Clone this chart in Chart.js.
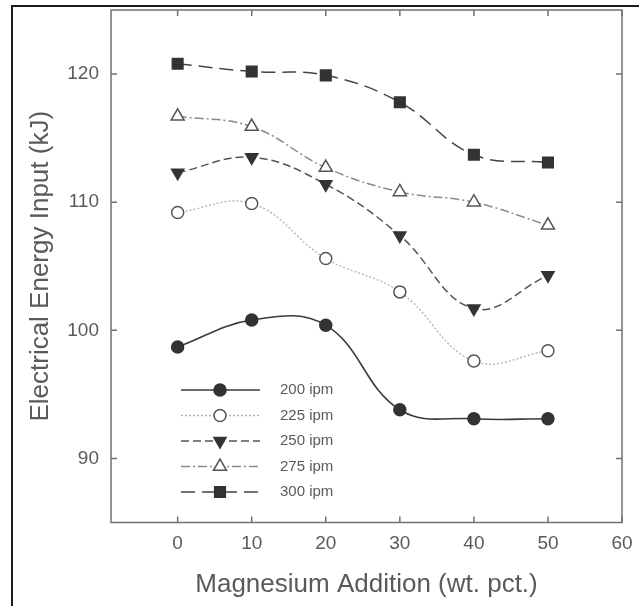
<!DOCTYPE html>
<html>
<head>
<meta charset="utf-8">
<script src="https://cdn.jsdelivr.net/npm/chart.js@4.4.1/dist/chart.umd.min.js"></script>
<style>
    html, body { margin: 0; padding: 0; background: #fff; }
    #wrap { position: relative; width: 639px; height: 606px; }
    #frame { position: absolute; left: 11px; top: 5px; right: 0; bottom: 0;
             border-top: 2px solid #1c1c1c; border-left: 2px solid #1c1c1c; pointer-events: none; }
</style>
</head>
<body>
<div id="wrap">
    <canvas id="chart" width="639" height="606"></canvas>
    <div id="frame"></div>
</div>
<script>
// magnesium addition (wt. pct.)
const magnesium = [0, 10, 20, 30, 40, 50];

// electrical energy input (kJ) per welding speed
const ipm200 = [98.7, 100.8, 100.4, 93.8, 93.1, 93.1];
const ipm225 = [109.2, 109.9, 105.6, 103.0, 97.6, 98.4];
const ipm250 = [112.3, 113.5, 111.4, 107.4, 101.7, 104.3];
const ipm275 = [116.7, 115.9, 112.7, 110.8, 110.0, 108.2];
const ipm300 = [120.8, 120.2, 119.9, 117.8, 113.7, 113.1];

const seriesLabels = ['200 ipm', '225 ipm', '250 ipm', '275 ipm', '300 ipm'];
const xTickValues = [0, 10, 20, 30, 40, 50, 60];
const yTickValues = [90, 100, 110, 120];

const textColor = '#5a5a5a';
const axisColor = '#707070';
const fontFamily = '"Liberation Sans", Arial, Helvetica, sans-serif';

function pts(values) {
    return magnesium.map((m, i) => ({ x: m, y: values[i] }));
}

const styles = [
    { color: '#3a3a3a', dash: [], width: 1.6, point: 'circle', radius: 6, fill: '#333', rotation: 0 },
    { color: '#b0b0b0', dash: [2, 2], width: 1.3, point: 'circle', radius: 6, fill: '#fff', rotation: 0 },
    { color: '#555', dash: [8, 4], width: 1.5, point: 'triangle', radius: 7, fill: '#333', rotation: 180 },
    { color: '#8a8a8a', dash: [9, 3, 2, 3], width: 1.5, point: 'triangle', radius: 7.5, fill: '#fff', rotation: 0 },
    { color: '#444', dash: [14, 7], width: 1.5, point: 'rect', radius: 7.5, fill: '#333', rotation: 0 }
];

const allValues = [ipm200, ipm225, ipm250, ipm275, ipm300];

const datasets = allValues.map((vals, i) => ({
    label: seriesLabels[i],
    data: pts(vals),
    borderColor: styles[i].color,
    borderDash: styles[i].dash,
    borderWidth: styles[i].width,
    tension: 0.4,
    fill: false,
    pointStyle: styles[i].point,
    pointRadius: styles[i].radius,
    pointRotation: styles[i].rotation,
    pointBackgroundColor: styles[i].fill,
    pointBorderColor: styles[i].fill === '#fff' ? '#555' : '#333',
    pointBorderWidth: 1.5
}));

function drawMarker(ctx, s, x, y) {
    ctx.save();
    ctx.setLineDash([]);
    ctx.fillStyle = s.fill;
    ctx.strokeStyle = s.fill === '#fff' ? '#555' : '#333';
    ctx.lineWidth = 1.5;
    ctx.beginPath();
    const r = s.radius;
    if (s.point === 'circle') {
        ctx.arc(x, y, r, 0, Math.PI * 2);
    } else if (s.point === 'rect') {
        const h = r * Math.SQRT1_2;
        ctx.rect(x - h, y - h, 2 * h, 2 * h);
    } else {
        let a = s.rotation * Math.PI / 180;
        for (let k = 0; k < 3; k++) {
            const px = x + Math.sin(a) * r, py = y - Math.cos(a) * r;
            if (k === 0) ctx.moveTo(px, py); else ctx.lineTo(px, py);
            a += 2 * Math.PI / 3;
        }
        ctx.closePath();
    }
    ctx.fill();
    ctx.stroke();
    ctx.restore();
}

// plot frame with inward ticks on all four sides, legend inside the plot
const framePlugin = {
    id: 'framePlugin',
    beforeDatasetsDraw(chart) {
        const { ctx, chartArea: a, scales } = chart;
        ctx.save();
        ctx.strokeStyle = axisColor;
        ctx.lineWidth = 1.5;
        ctx.strokeRect(a.left, a.top, a.right - a.left, a.bottom - a.top);
        ctx.beginPath();
        xTickValues.forEach(v => {
            const x = scales.x.getPixelForValue(v);
            ctx.moveTo(x, a.bottom); ctx.lineTo(x, a.bottom - 6);
            ctx.moveTo(x, a.top); ctx.lineTo(x, a.top + 6);
        });
        yTickValues.forEach(v => {
            const y = scales.y.getPixelForValue(v);
            ctx.moveTo(a.left, y); ctx.lineTo(a.left + 6, y);
            ctx.moveTo(a.right, y); ctx.lineTo(a.right - 6, y);
        });
        ctx.stroke();
        ctx.restore();
    },
    afterDatasetsDraw(chart) {
        const { ctx, chartArea: a } = chart;
        const x0 = a.left + 70, x1 = a.left + 149, xm = a.left + 109, xt = a.left + 169;
        ctx.save();
        ctx.font = '15px ' + fontFamily;
        ctx.textBaseline = 'middle';
        ctx.fillStyle = textColor;
        seriesLabels.forEach((lab, i) => {
            const y = 390 + i * 25.5;
            const s = styles[i];
            ctx.strokeStyle = s.color;
            ctx.lineWidth = s.width;
            ctx.setLineDash(s.dash);
            ctx.beginPath();
            ctx.moveTo(x0, y); ctx.lineTo(x1, y);
            ctx.stroke();
            drawMarker(ctx, s, xm, y);
            ctx.fillText(lab, xt, y);
        });
        ctx.restore();
    }
};

new Chart(document.getElementById('chart'), {
    type: 'line',
    data: { datasets: datasets },
    options: {
        responsive: false,
        animation: false,
        layout: { padding: { left: 0, top: 10, right: 17, bottom: 0 } },
        plugins: { legend: { display: false }, tooltip: { enabled: false } },
        scales: {
            x: {
                type: 'linear',
                min: -9,
                max: 60,
                afterBuildTicks: s => { s.ticks = xTickValues.map(v => ({ value: v })); },
                afterFit: s => { s.height = 83.5; s.paddingLeft = 0; s.paddingRight = 0; },
                grid: { display: false, drawTicks: false },
                border: { display: false },
                ticks: { padding: 10, color: textColor, font: { size: 19, family: fontFamily } },
                title: {
                    display: true,
                    text: 'Magnesium Addition (wt. pct.)',
                    color: textColor,
                    font: { size: 26, family: fontFamily },
                    padding: { top: 0, bottom: 6 }
                }
            },
            y: {
                min: 85,
                max: 125,
                afterBuildTicks: s => { s.ticks = yTickValues.map(v => ({ value: v })); },
                afterFit: s => { s.width = 111; s.paddingTop = 0; s.paddingBottom = 0; },
                grid: { display: false, drawTicks: false },
                border: { display: false },
                ticks: { padding: 12, color: textColor, font: { size: 19, family: fontFamily } },
                title: {
                    display: true,
                    text: 'Electrical Energy Input (kJ)',
                    color: textColor,
                    font: { size: 26, family: fontFamily },
                    padding: { top: 25, bottom: 0 }
                }
            }
        }
    },
    plugins: [framePlugin]
});
</script>
</body>
</html>
